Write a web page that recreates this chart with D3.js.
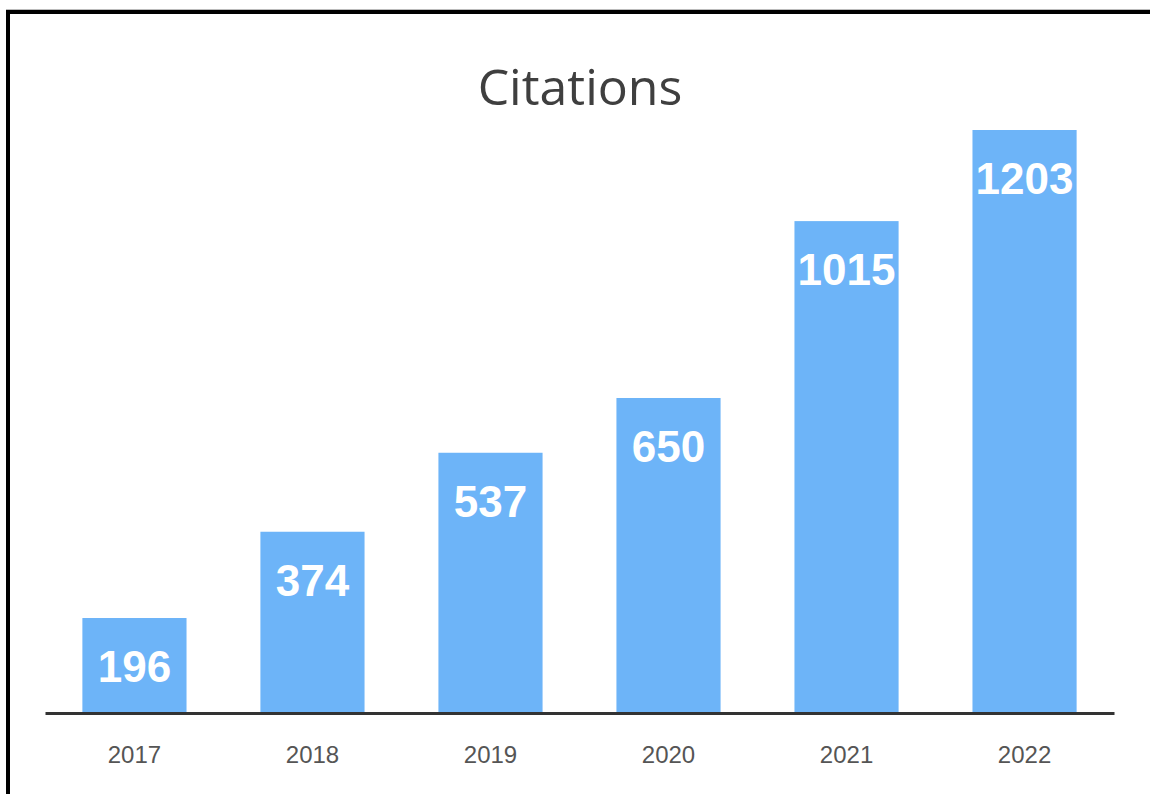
<!DOCTYPE html>
<html>
<head>
<meta charset="utf-8">
<script src="https://cdn.jsdelivr.net/npm/d3@7"></script>
<style>
html,body{margin:0;padding:0;background:#fff;}
svg{display:block;}
</style>
</head>
<body>
<svg id="chart" width="1150" height="794"></svg>
<script>
const categories = ["2017","2018","2019","2020","2021","2022"];
const values = [196, 374, 537, 650, 1015, 1203];
const title = "Citations";

const svg = d3.select("#chart");
const W = 1150, H = 794;

// frame (top and left edges)
svg.append("line").attr("x1",6).attr("x2",W).attr("y1",9.5).attr("y2",9.5)
  .attr("stroke","#bbb").attr("stroke-width",1);
svg.append("line").attr("x1",6).attr("x2",W).attr("y1",12).attr("y2",12)
  .attr("stroke","#000").attr("stroke-width",4);
svg.append("line").attr("x1",8).attr("x2",8).attr("y1",10).attr("y2",H)
  .attr("stroke","#000").attr("stroke-width",4);

const baseline = 713;
const x = d3.scaleBand().domain(categories).range([45,1114]).paddingInner(0.415).paddingOuter(0.21);
const y = d3.scaleLinear().domain([0, 1203]).range([baseline, 130]);

svg.append("text").attr("x",580).attr("y",105).attr("text-anchor","middle")
  .attr("font-family","'Open Sans', 'Liberation Sans', Arial, sans-serif")
  .attr("font-size",50).attr("fill","#3f3f3f").text(title);

const data = categories.map((c,i)=>({c, v: values[i]}));

svg.selectAll("rect.bar").data(data).join("rect").attr("class","bar")
  .attr("x",d=>x(d.c)).attr("width",x.bandwidth())
  .attr("y",d=>y(d.v)).attr("height",d=>baseline - y(d.v))
  .attr("fill","#6db4f8");

svg.selectAll("text.val").data(data).join("text").attr("class","val")
  .attr("x",d=>x(d.c)+x.bandwidth()/2).attr("y",d=>y(d.v)+64)
  .attr("text-anchor","middle")
  .attr("font-family","'Liberation Sans', Arial, sans-serif")
  .attr("font-weight","bold").attr("font-size",44).attr("fill","#fff")
  .text(d=>d.v);

const axis = d3.axisBottom(x).tickSize(0).tickPadding(0);
const g = svg.append("g").attr("transform",`translate(0,${baseline})`).call(axis);
g.select(".domain").attr("stroke","#333").attr("stroke-width",3);
g.selectAll(".tick text").attr("dy",0).attr("y",50)
  .attr("font-family","'Liberation Sans', Arial, sans-serif")
  .attr("font-size",24).attr("fill","#555");
</script>
</body>
</html>
